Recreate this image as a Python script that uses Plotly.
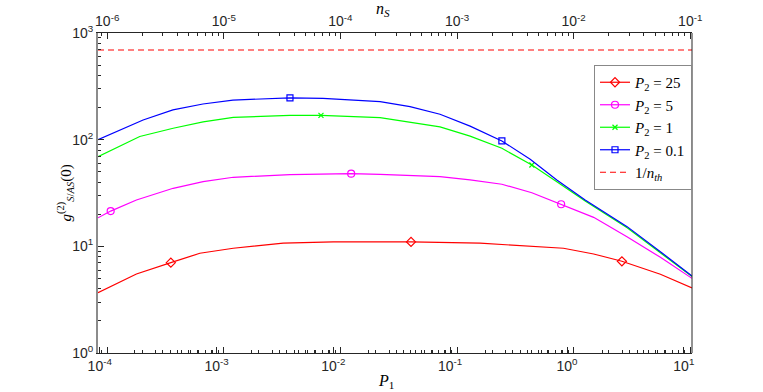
import plotly.graph_objects as go

# Curves: P1 (bottom axis) vs g2_{S/AS}(0)
P1_25 = [9.66e-5, 2.06e-4, 4.06e-4, 7.19e-4, 1.39e-3, 3.72e-3, 9.98e-3, 2.51e-2,
         4.62e-2, 0.180, 0.933, 1.69, 2.95, 6.30, 11.75]
G_25 = [3.67, 5.51, 7.03, 8.61, 9.59, 10.7, 11.0, 11.1, 11.0, 10.7, 9.59, 8.47, 7.24, 5.47, 4.08]

P1_5 = [9.66e-5, 1.24e-4, 2.06e-4, 4.25e-4, 7.67e-4, 1.39e-3, 4.25e-3, 1.42e-2, 2.51e-2,
        8.18e-2, 0.148, 0.277, 0.500, 0.891, 1.69, 3.26, 6.30, 11.75]
G_5 = [18.5, 21.4, 27.2, 35.0, 40.4, 44.4, 47.0, 48.0, 47.3, 45.0, 41.9, 38.2, 31.8, 24.8,
       18.7, 12.3, 7.89, 5.01]

P1_1 = [9.66e-5, 2.20e-4, 4.25e-4, 7.67e-4, 1.39e-3, 4.25e-3, 7.83e-3, 2.51e-2, 8.18e-2,
        0.148, 0.277, 0.500, 0.818, 1.43, 3.27, 6.30, 11.75]
G_1 = [69.2, 107, 128, 147, 162, 169, 169, 161, 132, 108, 83.0, 57.9, 40.4, 26.6, 14.9, 8.75, 5.21]

P1_01 = [9.66e-5, 2.35e-4, 4.23e-4, 7.64e-4, 1.38e-3, 4.25e-3, 8.15e-3, 1.69e-2, 2.51e-2,
         4.53e-2, 8.18e-2, 0.148, 0.277, 0.484, 0.818, 1.43, 3.27, 6.30, 11.75]
G_01 = [100, 153, 190, 216, 235, 247, 244, 235, 227, 204, 173, 134, 97.3, 65.5, 41.9, 27.2,
        15.3, 8.91, 5.27]

# marker positions
MK_P1_25, MK_G_25 = [4.06e-4, 4.62e-2, 2.95], [7.03, 11.0, 7.24]
MK_P1_5, MK_G_5 = [1.24e-4, 1.42e-2, 0.891], [21.4, 48.0, 24.8]
MK_P1_1, MK_G_1 = [7.83e-3, 0.500], [169, 57.9]
MK_P1_01, MK_G_01 = [4.25e-3, 0.277], [247, 97.3]

INV_NTH = 693

P1_TICKS = [1e-4, 1e-3, 1e-2, 1e-1, 1e0, 1e1]
P1_LABELS = ["10<sup>-4</sup>", "10<sup>-3</sup>", "10<sup>-2</sup>", "10<sup>-1</sup>",
             "10<sup>0</sup>", "10<sup>1</sup>"]
NS_TICKS = [1e-6, 1e-5, 1e-4, 1e-3, 1e-2, 1e-1]
NS_LABELS = ["10<sup>-6</sup>", "10<sup>-5</sup>", "10<sup>-4</sup>", "10<sup>-3</sup>",
             "10<sup>-2</sup>", "10<sup>-1</sup>"]
G_TICKS = [1, 10, 100, 1000]
G_LABELS = ["10<sup>0</sup>", "10<sup>1</sup>", "10<sup>2</sup>", "10<sup>3</sup>"]

AX = "#262626"
TICKFONT = {"family": "Liberation Sans, Arial", "size": 14, "color": AX}
SERIF = "Liberation Serif, Times New Roman"
NS_RANGE = [-6.079, -0.985]


def minor_vals(lo, hi):
    return [m * 10.0 ** e for e in range(lo, hi) for m in range(2, 10)]


series = [
    ("<i>P</i><sub>2</sub> = 25", "#ff0000", "diamond-open", 7, P1_25, G_25, MK_P1_25, MK_G_25),
    ("<i>P</i><sub>2</sub> = 5", "#ff00ff", "circle-open", 7, P1_5, G_5, MK_P1_5, MK_G_5),
    ("<i>P</i><sub>2</sub> = 1", "#00ff00", "x-thin-open", 5, P1_1, G_1, MK_P1_1, MK_G_1),
    ("<i>P</i><sub>2</sub> = 0.1", "#0000ff", "square-open", 6, P1_01, G_01, MK_P1_01, MK_G_01),
]

fig = go.Figure()
for name, color, sym, size, xs, ys, mx, my in series:
    fig.add_trace(go.Scatter(x=xs, y=ys, mode="lines", line={"color": color, "width": 1.2},
                             showlegend=False, hoverinfo="skip"))
    fig.add_trace(go.Scatter(x=mx, y=my, mode="markers", showlegend=False,
                             marker={"symbol": sym, "size": size, "color": color,
                                     "line": {"color": color, "width": 1.2}}))
    fig.add_trace(go.Scatter(x=[None], y=[None], mode="lines+markers", name=name,
                             line={"color": color, "width": 1.2},
                             marker={"symbol": sym, "size": size, "color": color,
                                     "line": {"color": color, "width": 1.2}}))

fig.add_trace(go.Scatter(x=P1_01, y=[INV_NTH] * len(P1_01), mode="lines",
                         name="1/<i>n</i><sub><i>th</i></sub>",
                         line={"color": "#ff0000", "width": 1.2, "dash": "6px,4px"}))

# empty traces so the n_S axes get drawn
for ax in ("x2", "x3"):
    fig.add_trace(go.Scatter(x=[None], y=[None], xaxis=ax, yaxis="y", mode="lines",
                             showlegend=False, hoverinfo="skip"))

fig.update_layout(
    width=763, height=392,
    paper_bgcolor="white", plot_bgcolor="white",
    margin={"l": 98, "r": 71, "t": 33, "b": 39, "autoexpand": False},
    xaxis={
        "type": "log", "range": [-4.015, 1.070], "automargin": False,
        "tickvals": P1_TICKS, "ticktext": P1_LABELS, "tickfont": TICKFONT,
        "ticks": "inside", "ticklen": 6, "tickcolor": AX, "tickwidth": 1,
        "minor": {"tickvals": minor_vals(-5, 2), "ticks": "inside", "ticklen": 3,
                  "tickcolor": AX, "showgrid": False},
        "showline": True, "linecolor": AX, "linewidth": 1,
        "showgrid": False, "zeroline": False,
    },
    xaxis2={
        "type": "log", "range": NS_RANGE, "overlaying": "x", "side": "top",
        "anchor": "y", "automargin": False,
        "tickvals": NS_TICKS, "ticktext": NS_LABELS, "tickfont": TICKFONT,
        "ticks": "inside", "ticklen": 6, "tickcolor": AX, "tickwidth": 1,
        "minor": {"tickvals": minor_vals(-7, 0), "ticks": "inside", "ticklen": 3,
                  "tickcolor": AX, "showgrid": False},
        "showline": True, "linecolor": AX, "linewidth": 1,
        "showgrid": False, "zeroline": False,
    },
    xaxis3={
        "type": "log", "range": NS_RANGE, "overlaying": "x", "side": "bottom",
        "anchor": "y", "automargin": False, "tickvals": NS_TICKS, "showticklabels": False,
        "ticks": "inside", "ticklen": 6, "tickcolor": AX, "tickwidth": 1,
        "minor": {"tickvals": minor_vals(-7, 0), "ticks": "inside", "ticklen": 3,
                  "tickcolor": AX, "showgrid": False},
        "showline": False, "showgrid": False, "zeroline": False,
    },
    yaxis={
        "type": "log", "range": [0, 3], "automargin": False,
        "tickvals": G_TICKS, "ticktext": G_LABELS, "tickfont": TICKFONT,
        "ticks": "inside", "ticklen": 6, "tickcolor": AX, "tickwidth": 1,
        "minor": {"tickvals": minor_vals(0, 3), "ticks": "inside", "ticklen": 3,
                  "tickcolor": AX, "showgrid": False},
        "showline": True, "linecolor": "#8c8c8c", "linewidth": 2,
        "showgrid": False, "zeroline": False,
    },
    legend={
        "x": 1, "xanchor": "right", "y": 0.9, "yanchor": "top",
        "bgcolor": "white", "bordercolor": "#888888", "borderwidth": 1,
        "font": {"family": SERIF, "size": 15, "color": "black"},
        "tracegroupgap": 0, "itemwidth": 30,
    },
    showlegend=True,
)

# right frame line
fig.add_shape(type="line", xref="paper", yref="paper", x0=1, x1=1, y0=0, y1=1,
              line={"color": AX, "width": 1})

fig.add_annotation(text="<i>P</i><sub>1</sub>", xref="paper", yref="paper",
                   x=0.485, y=-0.09, yanchor="middle", showarrow=False,
                   font={"family": SERIF, "size": 16, "color": "black"})
fig.add_annotation(text="<i>n</i><sub><i>S</i></sub>", xref="paper", yref="paper",
                   x=0.48, y=1.075, yanchor="middle", showarrow=False,
                   font={"family": SERIF, "size": 16, "color": "black"})
fig.add_annotation(text="<i>g</i><sup>(2)</sup><sub><i>S</i>/<i>AS</i></sub>(0)",
                   xref="paper", yref="paper", x=-0.075, y=0.5, textangle=-90,
                   showarrow=False,
                   font={"family": SERIF, "size": 15, "color": "black"})

# drop the browser's default page margin so the figure sits at the window origin
fig.write_html("out.html", config={"displayModeBar": False},
               post_script="document.body.style.margin='0';")
